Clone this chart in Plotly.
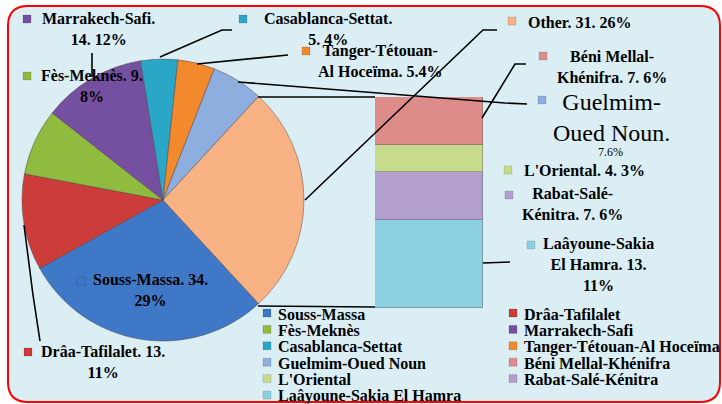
import plotly.graph_objects as go

W, H = 722, 404

# ---------------- data ----------------
pie_labels = ["Souss-Massa", "Drâa-Tafilalet", "Fès-Meknès", "Marrakech-Safi",
              "Casablanca-Settat", "Tanger-Tétouan-Al Hoceïma", "Guelmim-Oued Noun"]
pie_values = [34, 13, 9, 14, 5, 5, 7]
bar_labels = ["Béni Mellal-Khénifra", "L'Oriental", "Rabat-Salé-Kénitra", "Laâyoune-Sakia El Hamra"]
bar_values = [7, 4, 7, 13]
other_label = "Other"
other_value = sum(bar_values)

pie_colors = ["#3f78c6", "#cc3c3a", "#8fbb3e", "#7650a0", "#2aa6c6", "#f2892c", "#8eaee0"]
other_color = "#f8b283"
bar_colors = ["#de8c8a", "#c6db8c", "#b39ed0", "#8ed0e3"]

total = sum(pie_values) + other_value
val = dict(zip(pie_labels + bar_labels + [other_label], pie_values + bar_values + [other_value]))
pct = {k: round(100 * v / total) for k, v in val.items()}
col = dict(zip(pie_labels + bar_labels + [other_label], pie_colors + bar_colors + [other_color]))


def px(x):
    return x / W


def py(y):
    return 1 - y / H


fig = go.Figure()

# main pie: "Other" centred at 3 o'clock
other_frac = other_value / total
fig.add_trace(go.Pie(
    labels=pie_labels + [other_label], values=pie_values + [other_value],
    sort=False, direction="clockwise", rotation=90 + other_frac * 180,
    marker=dict(colors=pie_colors + [other_color], line=dict(color="rgba(80,60,60,0.45)", width=1)),
    textinfo="none", hoverinfo="label+value+percent", showlegend=False,
    domain=dict(x=[px(22), px(304)], y=[py(341), py(59)]),
))

# secondary stacked bar (bottom to top)
for lab in reversed(bar_labels):
    fig.add_trace(go.Bar(
        x=[0], y=[val[lab]], name=lab, width=1,
        marker=dict(color=col[lab], line=dict(color="rgba(90,90,90,0.45)", width=1)),
        showlegend=False, hoverinfo="name+y",
    ))

fig.update_layout(
    width=W, height=H, margin=dict(l=0, r=0, t=0, b=0),
    paper_bgcolor="white", plot_bgcolor="rgba(0,0,0,0)",
    barmode="stack", bargap=0,
    xaxis=dict(domain=[px(375), px(483)], range=[-0.5, 0.5], visible=False, fixedrange=True),
    yaxis=dict(domain=[py(308), py(97)], range=[0, other_value], visible=False, fixedrange=True),
)

shapes = []
# background rounded panel
x0, y0, x1, y1, r = px(8), py(402), px(720), py(6), 20
rx, ry = r / W, r / H
path = (f"M {x0+rx},{y1} L {x1-rx},{y1} Q {x1},{y1} {x1},{y1-ry} "
        f"L {x1},{y0+ry} Q {x1},{y0} {x1-rx},{y0} L {x0+rx},{y0} "
        f"Q {x0},{y0} {x0},{y0+ry} L {x0},{y1-ry} Q {x0},{y1} {x0+rx},{y1} Z")
shapes.append(dict(type="path", xref="paper", yref="paper", path=path,
                   fillcolor="#dbeef4", line=dict(color="#ff0000", width=2), layer="below"))


def polyline(pts, width=1.6):
    d = "M " + " L ".join(f"{px(x)},{py(y)}" for x, y in pts)
    shapes.append(dict(type="path", xref="paper", yref="paper", path=d,
                       line=dict(color="black", width=width), layer="above"))


# connectors pie -> bar
polyline([(258, 97), (375, 97)])
polyline([(258, 306), (375, 307)])
# leader lines
polyline([(92, 53), (92, 77)])
polyline([(160, 57), (222, 30), (232, 30)])
polyline([(197, 64), (288, 55)])
polyline([(238, 82), (505, 103), (527, 104)])
polyline([(305, 200), (483, 30), (497, 30)])
polyline([(482, 118), (515, 64), (526, 64)])
polyline([(483, 263), (510, 262)])
polyline([(24, 225), (33, 295), (40, 341)])


def square(cx, cy, color, s=8):
    shapes.append(dict(type="rect", xref="paper", yref="paper",
                       x0=px(cx - s / 2), x1=px(cx + s / 2), y0=py(cy + s / 2), y1=py(cy - s / 2),
                       fillcolor=color, line=dict(color="rgba(0,0,0,0.25)", width=0.5), layer="above"))


annotations = []
FONT = "Liberation Serif, Times New Roman, DejaVu Serif, serif"


def text(x, y, s, size=16, bold=True, xanchor="center", align="center"):
    annotations.append(dict(x=px(x), y=py(y), xref="paper", yref="paper", text=s,
                            showarrow=False, xanchor=xanchor, yanchor="middle", align=align,
                            font=dict(family=FONT, size=size, color="black",
                                      weight="bold" if bold else "normal")))


# data labels
L = "Marrakech-Safi"
square(27, 19, col[L]); text(98, 29, f"{L}.<br>{val[L]}. {pct[L]}%")
L = "Casablanca-Settat"
square(243, 19, col[L]); text(328, 29, f"{L}.<br>{val[L]}. {pct[L]}%")
L = "Tanger-Tétouan-Al Hoceïma"
square(306, 51, col[L]); text(380, 61, f"Tanger-Tétouan-<br>Al Hoceïma. {val[L]}.{pct[L]}%")
L = "Fès-Meknès"
square(27, 76, col[L]); text(92, 86, f"{L}. {val[L]}.<br>{pct[L]}%")
L = other_label
square(512, 21, col[L]); text(526, 22, f"{L}. {val[L]}. {pct[L]}%", xanchor="left", align="left")
L = "Béni Mellal-Khénifra"
square(543, 56, col[L]); text(612, 67, f"Béni Mellal-<br>Khénifra. {val[L]}. {pct[L]}%")
L = "Guelmim-Oued Noun"
square(542, 100, col[L]); text(611, 117, "Guelmim-<br>Oued Noun.", size=24, bold=False)
text(610, 152, f"{val[L]}.{pct[L]}%", size=12, bold=False)
L = "L'Oriental"
square(508, 170, col[L]); text(522, 171, f"{L}. {val[L]}. {pct[L]}%", xanchor="left", align="left")
L = "Rabat-Salé-Kénitra"
square(509, 195, col[L]); text(572, 204, f"Rabat-Salé-<br>Kénitra. {val[L]}. {pct[L]}%")
L = "Laâyoune-Sakia El Hamra"
square(531, 245, col[L]); text(598, 264, f"Laâyoune-Sakia<br>El Hamra. {val[L]}.<br>{pct[L]}%")
L = "Souss-Massa"
square(81, 281, col[L]); text(150, 290, f"{L}. {val[L]}.<br>{pct[L]}%")
L = "Drâa-Tafilalet"
square(28, 352, col[L]); text(103, 362, f"{L}. {val[L]}.<br>{pct[L]}%")

# legend (two columns, row-major)
legend_items = pie_labels + bar_labels
col_x = [267, 513]
row_y0, row_dy = 313, 16.4
for i, lab in enumerate(legend_items):
    cx = col_x[i % 2]
    cy = row_y0 + (i // 2) * row_dy
    square(cx, cy, col[lab], s=8)
    text(cx + 9, cy + 1, lab, xanchor="left", align="left")

fig.update_layout(shapes=shapes, annotations=annotations)
fig.write_html("out.html", config={"displayModeBar": False},
               post_script="document.body.style.margin='0';document.body.style.padding='0';")
